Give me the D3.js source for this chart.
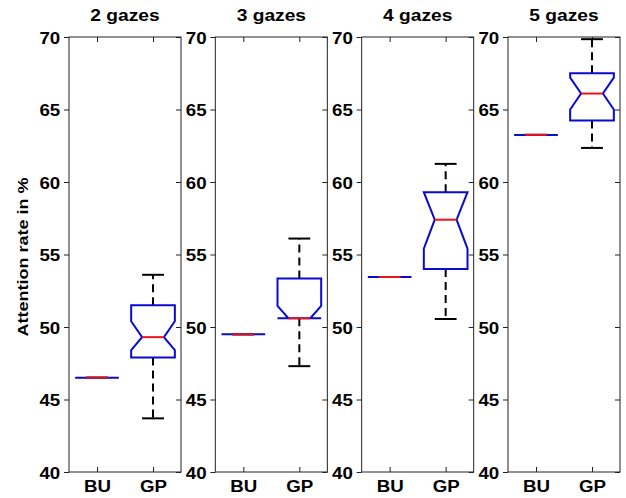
<!DOCTYPE html>
<head>
	<meta charset="utf-8">
	<script src="https://cdn.jsdelivr.net/npm/d3@7"></script>
	<style>
		body { margin: 0; background: #fff; }
		svg { display: block; }
		text { font-family: "Liberation Sans", Arial, sans-serif; font-weight: bold; fill: #000; }
	</style>
</head>
<body>
<div id="main_div"></div>
<script>
// chart data
var panels = ["2 gazes", "3 gazes", "4 gazes", "5 gazes"];
var groups = ["BU", "GP"];
var yTicks = [40, 45, 50, 55, 60, 65, 70];

// BU has a single value per panel (box collapses to a line)
var buValue = [46.5, 49.5, 53.45, 63.25];

// GP box statistics per panel
var gpLowerWhisker = [43.7, 47.3, 50.55, 62.35];
var gpQ1           = [47.9, 50.6, 54.0, 64.25];
var gpNotchLo      = [48.4, 50.6, 55.4, 65.0];
var gpMedian       = [49.3, 50.6, 57.4, 66.1];
var gpNotchHi      = [50.4, 51.45, 59.3, 67.2];
var gpQ3           = [51.5, 53.35, 59.3, 67.5];
var gpUpperWhisker = [53.6, 56.1, 61.25, 69.85];

var width = 626, height = 498;
var top_ = 37, bottom = 472;
var boxHalf = 0.39;   // in x units (xlim is 0.5 .. 2.5)
var blue = "#0a0ad2", red = "#e8141e";

var svg = d3.select("#main_div").append("svg")
    .attr("width", width)
    .attr("height", height);

var px = d3.scaleBand().domain(panels).range([69, 620]).paddingInner(0.2345).paddingOuter(0);
var y = d3.scaleLinear().domain([40, 70]).range([bottom, top_]);

function stretch(sel, s) {
    sel.each(function() {
        var t = d3.select(this);
        t.attr("transform", (t.attr("transform") || "") + " scale(" + s + ",1)");
    });
}

panels.forEach(function(name, i) {
    var left = px(name), pw = px.bandwidth();
    var x = d3.scaleLinear().domain([0.5, 2.5]).range([0, pw]);
    var g = svg.append("g").attr("transform", "translate(" + left + ",0)");

    // frame
    g.append("rect")
        .attr("x", 0).attr("y", top_)
        .attr("width", pw).attr("height", bottom - top_)
        .attr("fill", "none").attr("stroke", "#222").attr("stroke-width", 1);

    // left axis with labels, ticks outward
    var ya = g.append("g").call(d3.axisLeft(y).tickValues(yTicks).tickSize(5).tickSizeOuter(0).tickPadding(3));
    ya.select(".domain").remove();
    ya.selectAll("line").attr("stroke", "#222");
    ya.selectAll("text").style("font-size", "17px").attr("dy", "0.36em");
    stretch(ya.selectAll("text"), 1.1);

    // right axis, ticks inward
    var yr = g.append("g").attr("transform", "translate(" + pw + ",0)")
        .call(d3.axisLeft(y).tickValues(yTicks).tickSize(5).tickSizeOuter(0).tickFormat(""));
    yr.select(".domain").remove();
    yr.selectAll("line").attr("stroke", "#222");

    // bottom axis with group labels, ticks inward
    var xb = g.append("g").attr("transform", "translate(0," + bottom + ")")
        .call(d3.axisBottom(x).tickValues([1, 2]).tickSize(-5).tickSizeOuter(0).tickPadding(8)
            .tickFormat(function(d) { return groups[d - 1]; }));
    xb.select(".domain").remove();
    xb.selectAll("line").attr("stroke", "#222");
    xb.selectAll("text").style("font-size", "17px");
    stretch(xb.selectAll("text"), 1.1);

    // top ticks, inward
    var xt = g.append("g").attr("transform", "translate(0," + top_ + ")")
        .call(d3.axisTop(x).tickValues([1, 2]).tickSize(-5).tickSizeOuter(0).tickFormat(""));
    xt.select(".domain").remove();
    xt.selectAll("line").attr("stroke", "#222");

    // title
    g.append("text")
        .attr("transform", "translate(" + pw / 2 + ",21) scale(1.2,1)")
        .attr("text-anchor", "middle")
        .style("font-size", "16px")
        .text(name);

    var stats = [
        {pos: 1, lw: buValue[i], q1: buValue[i], nlo: buValue[i], med: buValue[i], nhi: buValue[i], q3: buValue[i], uw: buValue[i]},
        {pos: 2, lw: gpLowerWhisker[i], q1: gpQ1[i], nlo: gpNotchLo[i], med: gpMedian[i], nhi: gpNotchHi[i], q3: gpQ3[i], uw: gpUpperWhisker[i]}
    ];

    stats.forEach(function(s) {
        var xl = x(s.pos - boxHalf), xr = x(s.pos + boxHalf), xc = x(s.pos);
        var xil = x(s.pos - boxHalf / 2), xir = x(s.pos + boxHalf / 2);

        // whiskers
        if (s.uw > s.q3) {
            g.append("line").attr("x1", xc).attr("x2", xc).attr("y1", y(s.q3)).attr("y2", y(s.uw))
                .attr("stroke", "#000").attr("stroke-width", 2).attr("stroke-dasharray", "8,5");
        }
        if (s.lw < s.q1) {
            g.append("line").attr("x1", xc).attr("x2", xc).attr("y1", y(s.q1)).attr("y2", y(s.lw))
                .attr("stroke", "#000").attr("stroke-width", 2).attr("stroke-dasharray", "8,5");
        }
        [s.uw, s.lw].forEach(function(v) {
            g.append("line").attr("x1", xil).attr("x2", xir).attr("y1", y(v)).attr("y2", y(v))
                .attr("stroke", "#000").attr("stroke-width", 2);
        });

        // notched box
        var pts = [
            [xl, y(s.q1)], [xl, y(s.nlo)], [xil, y(s.med)], [xl, y(s.nhi)], [xl, y(s.q3)],
            [xr, y(s.q3)], [xr, y(s.nhi)], [xir, y(s.med)], [xr, y(s.nlo)], [xr, y(s.q1)]
        ];
        g.append("path")
            .attr("d", d3.line()(pts) + "Z")
            .attr("fill", "none").attr("stroke", blue).attr("stroke-width", 2)
            .attr("stroke-linejoin", "miter");

        // median
        g.append("line").attr("x1", xil).attr("x2", xir).attr("y1", y(s.med)).attr("y2", y(s.med))
            .attr("stroke", red).attr("stroke-width", 2);
    });
});

// y label
svg.append("text")
    .attr("transform", "translate(28,257) rotate(-90) scale(1.2,1)")
    .attr("text-anchor", "middle")
    .style("font-size", "15px")
    .text("Attention rate in %");
</script>
</body>
